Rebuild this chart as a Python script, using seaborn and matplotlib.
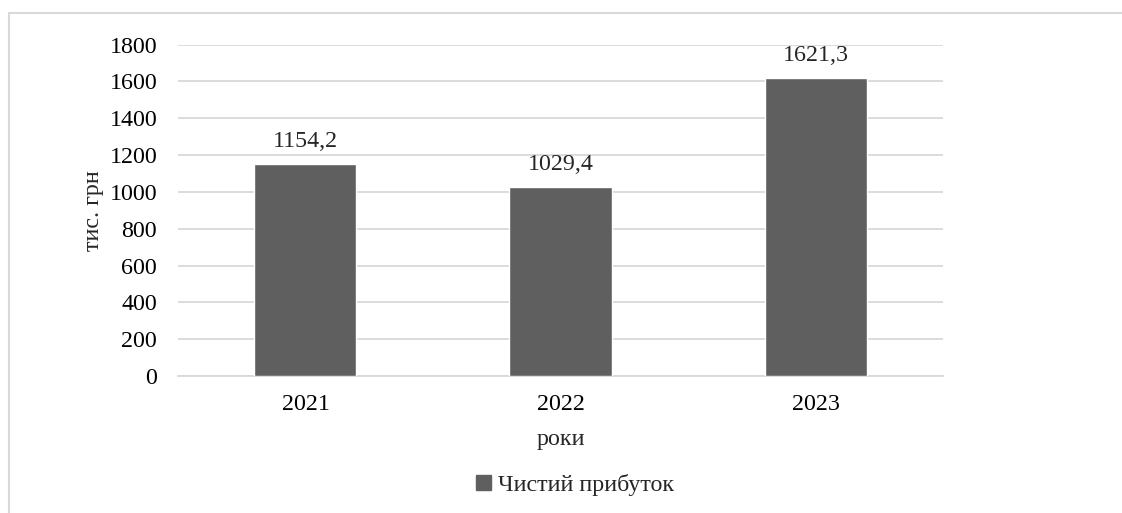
import matplotlib
matplotlib.use("Agg")
import matplotlib.pyplot as plt
from matplotlib.patches import Patch, Rectangle
import seaborn as sns
import pandas as pd

# Data
years = ["2021", "2022", "2023"]
profit = [1154.2, 1029.4, 1621.3]
series_name = "Чистий прибуток"

df = pd.DataFrame({"year": years, "value": profit})

sns.set_style("white")
plt.rcParams["font.family"] = ["Liberation Serif", "DejaVu Serif"]
fs = 17.3

bar_color = "#5f5f5f"
grid_color = "#d9d9d9"

fig = plt.figure(figsize=(11.22, 5.13), dpi=100)
ax = fig.add_axes([0.1586, 0.267, 0.6819, 0.6459])

sns.barplot(data=df, x="year", y="value", color=bar_color, width=0.4,
            saturation=1, ax=ax, zorder=3)

ax.set_ylim(0, 1800)
ax.set_yticks(range(0, 1801, 200))
ax.yaxis.grid(True, color=grid_color, linewidth=1.3, zorder=0)
ax.set_axisbelow(True)
for s in ["top", "right", "left"]:
    ax.spines[s].set_visible(False)
ax.spines["bottom"].set_color(grid_color)
ax.spines["bottom"].set_linewidth(1.3)
ax.tick_params(axis="both", length=0, labelsize=fs, colors="black")
ax.tick_params(axis="y", pad=15)
ax.tick_params(axis="x", pad=13)

ax.set_ylabel("тис. грн", fontsize=fs, labelpad=4)
ax.set_xlabel("роки", fontsize=fs, labelpad=10)

labels = [f"{v:.1f}".replace(".", ",") for v in profit]
ax.bar_label(ax.containers[0], labels=labels, padding=8, fontsize=fs)

handle = Patch(facecolor=bar_color, edgecolor=bar_color)
fig.legend([handle], [series_name], loc="center", bbox_to_anchor=(0.5125, 0.055),
           frameon=False, handlelength=0.6, handleheight=0.6, handletextpad=0.3,
           fontsize=fs)

# outer chart border
fig.patches.append(Rectangle((9 / 1122, -0.1), 1.2, 1 - 13 / 513 + 0.1,
                             transform=fig.transFigure, fill=False,
                             edgecolor=grid_color, linewidth=1.5))

fig.savefig("out.png", dpi=100, facecolor="white")
